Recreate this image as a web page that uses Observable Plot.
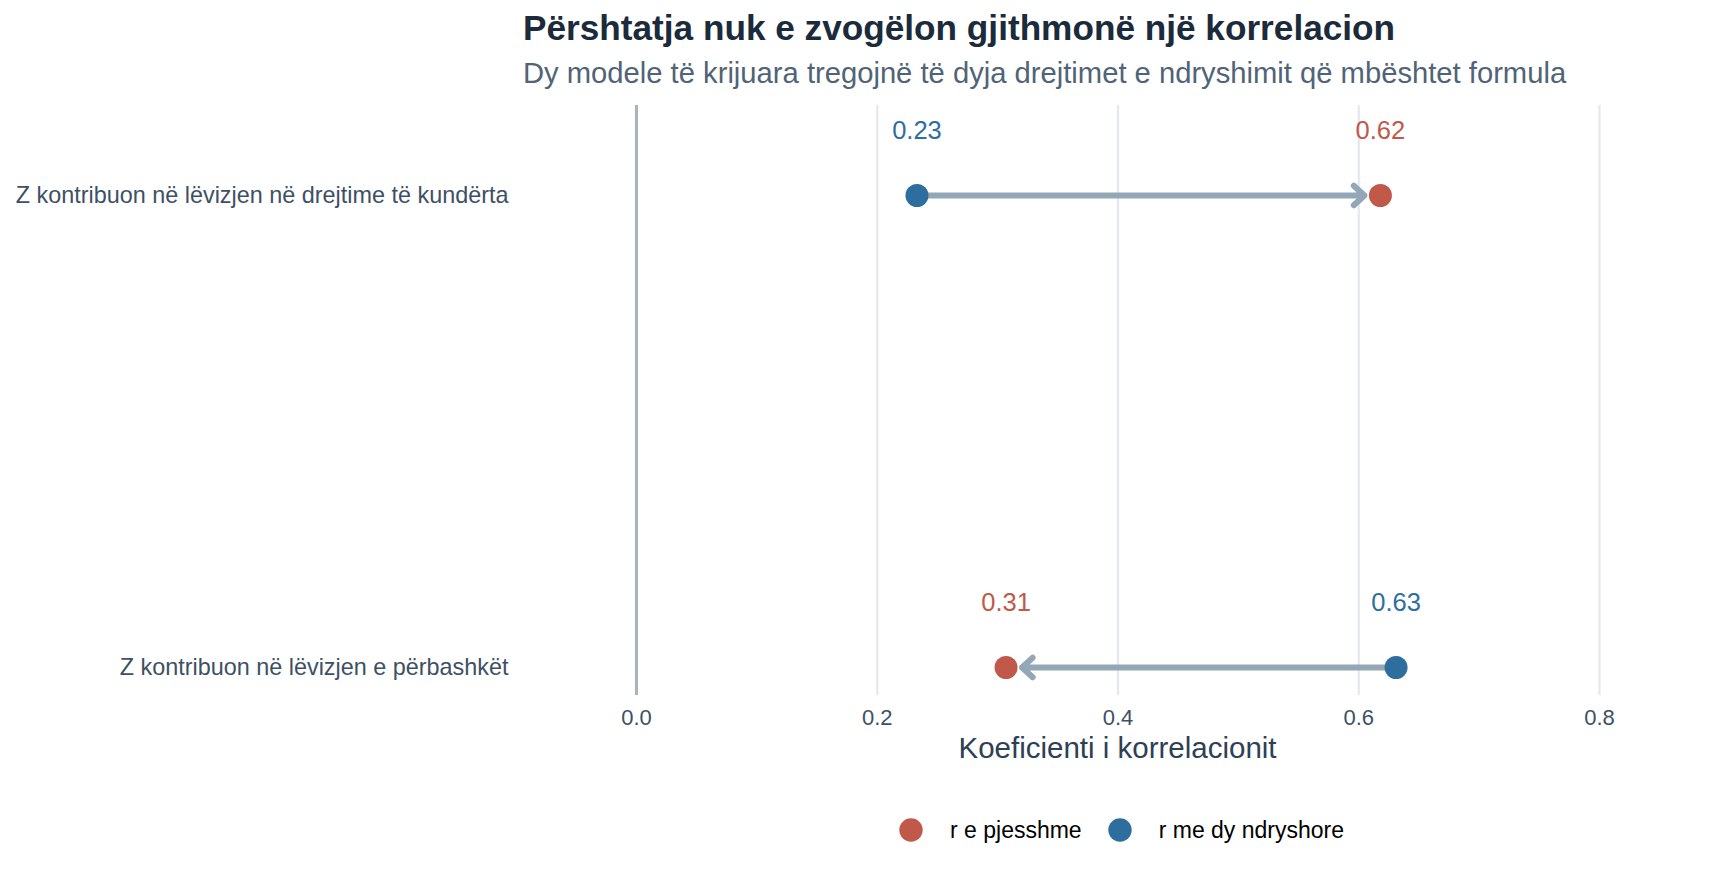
<!DOCTYPE html>
<html>
<head>
<meta charset="utf-8">
<script src="https://cdn.jsdelivr.net/npm/d3@7"></script>
<script src="https://cdn.jsdelivr.net/npm/@observablehq/plot@0.6"></script>
<style>
  html, body { margin: 0; padding: 0; background: #ffffff; }
  body { width: 1728px; height: 883px; position: relative; overflow: hidden;
         font-family: "Liberation Sans", Arial, Helvetica, sans-serif; }
  .abs { position: absolute; white-space: nowrap; line-height: 1; }
  #title { left: 523px; top: 10px; font-size: 35.2px; font-weight: bold; color: #1B2B3B; }
  #subtitle { left: 523px; top: 58.5px; font-size: 29.2px; color: #506377; }
  #chart { position: absolute; left: 0; top: 95px; }
  #xtitle { left: 636px; width: 963px; top: 733px; text-align: center; font-size: 29.5px; color: #2E4055; }
  #legend { left: 899px; top: 818px; display: flex; align-items: center; font-size: 23px; color: #000; }
  #legend .item { display: flex; align-items: center; margin-right: 26px; }
  #legend svg { margin-right: 27px; }
</style>
</head>
<body>
<div id="title" class="abs"></div>
<div id="subtitle" class="abs"></div>
<div id="chart"></div>
<div id="xtitle" class="abs"></div>
<div id="legend" class="abs"></div>
<script>
// ---- data ----
const titleText = "Përshtatja nuk e zvogëlon gjithmonë një korrelacion";
const subtitleText = "Dy modele të krijuara tregojnë të dyja drejtimet e ndryshimit që mbështet formula";
const xLabel = "Koeficienti i korrelacionit";
const categories = [
  "Z kontribuon në lëvizjen në drejtime të kundërta",
  "Z kontribuon në lëvizjen e përbashkët"
];
const bivariate = [0.233, 0.631];   // r me dy ndryshore
const partial = [0.618, 0.307];     // r e pjesshme
const seriesNames = ["r e pjesshme", "r me dy ndryshore"];
const seriesColors = ["#C0594A", "#2E6E9E"];
const xTicks = [0, 0.2, 0.4, 0.6, 0.8];

// ---- tables built from arrays ----
const rows = categories.map((c, i) => ({category: c, biv: bivariate[i], par: partial[i]}));
const points = [];
categories.forEach((c, i) => {
  points.push({category: c, value: partial[i], series: seriesNames[0]});
  points.push({category: c, value: bivariate[i], series: seriesNames[1]});
});

document.getElementById("title").textContent = titleText;
document.getElementById("subtitle").textContent = subtitleText;
document.getElementById("xtitle").textContent = xLabel;

const fmt = d3.format(".2f");

const chart = Plot.plot({
  width: 1728,
  height: 690,
  marginLeft: 636,
  marginRight: 129,
  marginTop: 10,
  marginBottom: 90,
  insetTop: 90,
  insetBottom: 28,
  style: {fontFamily: "'Liberation Sans', Arial, sans-serif", background: "transparent"},
  x: {domain: [0, 0.8]},
  y: {type: "point", domain: categories, padding: 0},
  color: {domain: seriesNames, range: seriesColors},
  marks: [
    Plot.ruleX(xTicks.filter(d => d !== 0), {stroke: "#E4E8ED", strokeWidth: 2.2}),
    Plot.ruleX([0], {stroke: "#A7B5C1", strokeWidth: 3}),
    Plot.axisX({ticks: xTicks, tickFormat: ".1f", tickSize: 0, tickPadding: 14, fontSize: 22, fill: "#3E5064", label: null}),
    Plot.axisY({tickSize: 0, tickPadding: 128, fontSize: 23.4, fill: "#3E5064", label: null}),
    Plot.arrow(rows, {x1: "biv", x2: "par", y1: "category", y2: "category",
      stroke: "#94A7B6", strokeWidth: 6, insetEnd: 16, headLength: 3.6, headAngle: 85}),
    Plot.dot(points, {x: "value", y: "category", fill: "series", r: 11.5}),
    Plot.text(points, {x: "value", y: "category", text: d => fmt(d.value), fill: "series",
      dy: -65, fontSize: 25.5})
  ]
});
document.getElementById("chart").appendChild(chart);

// ---- legend ----
const legend = document.getElementById("legend");
seriesNames.forEach((name, i) => {
  const item = document.createElement("div");
  item.className = "item";
  item.innerHTML = `<svg width="24" height="24"><circle cx="12" cy="12" r="11.7" fill="${seriesColors[i]}"></circle></svg><span>${name}</span>`;
  legend.appendChild(item);
});
</script>
</body>
</html>
